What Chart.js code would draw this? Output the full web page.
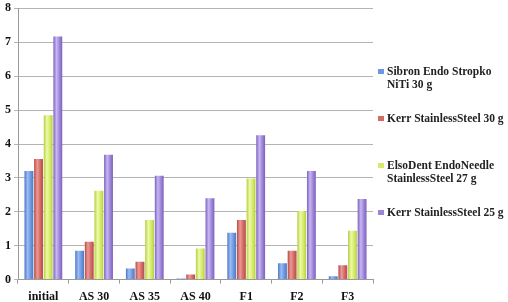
<!DOCTYPE html>
<html>
<head>
<meta charset="utf-8">
<script src="https://cdn.jsdelivr.net/npm/chart.js@4/dist/chart.umd.min.js"></script>
<style>
  html, body { margin: 0; padding: 0; background: #fff; }
  #wrap { width: 508px; height: 302px; }
</style>
</head>
<body>
<div id="wrap"><canvas id="myChart" width="508" height="302"></canvas></div>
<script>
const categories = ['initial', 'AS 30', 'AS 35', 'AS 40', 'F1', 'F2', 'F3'];

const sibronNiTi30 = [3.2, 0.85, 0.33, 0.03, 1.38, 0.48, 0.1];
const kerrSteel30 = [3.56, 1.12, 0.53, 0.15, 1.76, 0.85, 0.42];
const elsoDent27 = [4.85, 2.62, 1.76, 0.92, 2.98, 2.02, 1.44];
const kerrSteel25 = [7.17, 3.68, 3.06, 2.4, 4.26, 3.2, 2.38];

const seriesLabels = [
  ['Sibron Endo Stropko', 'NiTi 30 g'],
  ['Kerr StainlessSteel 30 g'],
  ['ElsoDent EndoNeedle', 'StainlessSteel 27 g'],
  ['Kerr StainlessSteel 25 g'],
];

const yTicks = [0, 1, 2, 3, 4, 5, 6, 7, 8];

// dark edge, light middle, base colour
const palette = [
  ['#4a78c8', '#9dbcf2', '#6d97df'],
  ['#b84a46', '#eb9a96', '#d26a66'],
  ['#b4d040', '#eef9a8', '#d3ea6a'],
  ['#7c62bc', '#c7b7f4', '#9c84d6'],
];

const barFill = (i) => (ctx) => {
  const meta = ctx.chart.getDatasetMeta(ctx.datasetIndex);
  const bar = meta && meta.data[ctx.dataIndex];
  if (!bar || !isFinite(bar.x) || !isFinite(bar.width)) return palette[i][2];
  const g = ctx.chart.ctx.createLinearGradient(bar.x - bar.width / 2, 0, bar.x + bar.width / 2, 0);
  g.addColorStop(0, palette[i][0]);
  g.addColorStop(0.35, palette[i][1]);
  g.addColorStop(0.7, palette[i][2]);
  g.addColorStop(1, palette[i][0]);
  return g;
};

const values = [sibronNiTi30, kerrSteel30, elsoDent27, kerrSteel25];

const data = {
  labels: categories,
  datasets: values.map((v, i) => ({
    label: seriesLabels[i].join(' '),
    data: v,
    backgroundColor: barFill(i),
    borderWidth: 0,
    categoryPercentage: 0.76,
    barPercentage: 0.92,
  })),
};

const serif = "'Liberation Serif', 'DejaVu Serif', serif";

// legend on the right, evenly spaced like the original
const sideLegend = {
  id: 'sideLegend',
  afterDraw(chart) {
    const ctx = chart.ctx;
    const left = chart.chartArea.right + 5;
    const top = 72;
    const step = 47;
    ctx.save();
    ctx.font = 'bold 11.5px ' + serif;
    ctx.textBaseline = 'middle';
    ctx.textAlign = 'left';
    seriesLabels.forEach((lines, i) => {
      const y = top + i * step;
      ctx.fillStyle = palette[i][2];
      ctx.fillRect(left, y - 3, 6, 5);
      ctx.fillStyle = '#222';
      lines.forEach((t, j) => ctx.fillText(t, left + 9, y + j * 13));
    });
    ctx.restore();
  },
};

const config = {
  type: 'bar',
  data: data,
  options: {
    responsive: false,
    animation: false,
    layout: { padding: { left: 2, right: 135, top: 0, bottom: -8 } },
    plugins: {
      tooltip: { enabled: false },
      legend: { display: false },
    },
    scales: {
      x: {
        grid: {
          display: true,
          drawOnChartArea: false,
          drawTicks: true,
          tickLength: 4,
          color: '#9a9a9a',
          offset: true,
        },
        border: { color: '#9a9a9a' },
        ticks: {
          color: '#111',
          font: { family: serif, size: 12, weight: 'bold' },
          padding: 6,
        },
      },
      y: {
        min: 0,
        max: 8,
        afterBuildTicks: (axis) => { axis.ticks = yTicks.map(v => ({ value: v })); },
        grid: { color: '#b4b4b4', tickLength: 4, lineWidth: 1 },
        border: { color: '#9a9a9a' },
        ticks: {
          color: '#111',
          font: { family: serif, size: 12, weight: 'bold', lineHeight: 0.9 },
          padding: 3,
        },
      },
    },
  },
  plugins: [sideLegend],
};

const myChart = new Chart(document.getElementById('myChart'), config);
myChart.update();
</script>
</body>
</html>
